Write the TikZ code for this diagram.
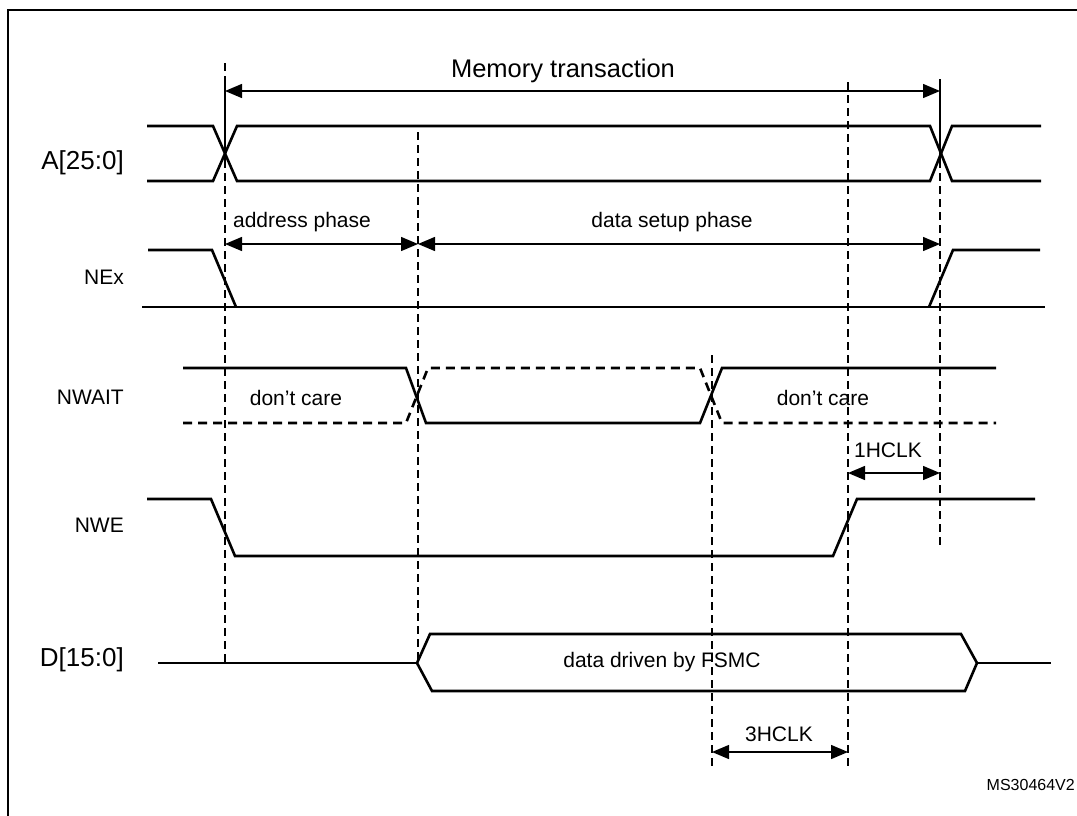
\documentclass[tikz,border=0pt]{standalone}
\usepackage{fontspec}
\setmainfont{Liberation Sans}
\usepackage{tikz}
\usetikzlibrary{arrows.meta}
\usetikzlibrary{calc}

\begin{document}
\begin{tikzpicture}[x=1pt,y=-1pt,
    wave/.style={line width=2.6pt},
    wavedc/.style={line width=2.6pt, dash pattern=on 9pt off 6pt},
    tmark/.style={line width=1.4pt, dash pattern=on 8pt off 5pt},
    span/.style={line width=1.4pt, {Triangle[length=17pt,width=14pt]}-{Triangle[length=17pt,width=14pt]}},
    sig/.style={anchor=east, inner sep=0pt, font=\fontsize{21}{25}\selectfont},
    bus/.style={anchor=east, inner sep=0pt, font=\fontsize{26}{30}\selectfont},
    txt/.style={inner sep=0pt, font=\fontsize{21}{25}\selectfont}]
  \useasboundingbox (0,0) rectangle (1077,815);
  % frame
  \draw[line width=2pt] (7.5,830) -- (7.5,9.5) -- (1090,9.5);

  % signal names
  \node[bus] (lA) at (124,163) {A[25:0]};
  \node[sig] (lNE) at (124,277) {NEx};
  \node[sig] (lNW) at (124,397) {NWAIT};
  \node[sig] (lWE) at (124,525) {NWE};
  \node[bus] (lD) at (124,660) {D[15:0]};

  % timing marks
  \draw[tmark] (225,63) -- (225,80);
  \draw[line width=1.4pt] (225,80) -- (225,160);
  \draw[tmark] (225,160) -- (225,663);
  \draw[tmark] (418,132) -- (418,663);
  \draw[tmark] (712,355) -- (712,767);
  \draw[tmark] (848,82) -- (848,767);
  \draw[line width=1.4pt] (940,79) -- (940,160);
  \draw[tmark] (940,160) -- (940,547);

  % A[25:0]
  \draw[wave] (147,126) -- (213,126) -- (237,181) -- (930,181) -- (952,126) -- (1041,126);
  \draw[wave] (147,181) -- (213,181) -- (237,126) -- (930,126) -- (952,181) -- (1041,181);
  % NEx
  \draw[wave] (142,307) -- (1045,307);
  \draw[wave] (148,250) -- (212,250) -- (236,307);
  \draw[wave] (929,307) -- (953,250) -- (1040,250);
  % NWAIT
  \draw[wave] (183,368) -- (406,368) -- (426,423) -- (700,423) -- (722,368) -- (996,368);
  \draw[wavedc] (183,423) -- (406,423) -- (428,368) -- (700,368) -- (722,423) -- (996,423);
  % NWE
  \draw[wave] (147,499) -- (211,499) -- (235,556) -- (833,556) -- (857,499) -- (1035,499);
  % D[15:0]
  \draw[wave] (158,663) -- (417,663);
  \draw[wave] (977,663) -- (1051,663);
  \draw[wave] (417,663) -- (430,634) -- (961,634) -- (977,663) -- (965,691) -- (432,691) -- cycle;

  % spans
  \coordinate (memL) at (225,91);
  \coordinate (memR) at (940,91);
  \coordinate (adrL) at (225,244);
  \coordinate (adrR) at (418,244);
  \coordinate (setR) at (940,244);
  \coordinate (oneL) at (848,473);
  \coordinate (oneR) at (940,473);
  \coordinate (thrL) at (712,752);
  \coordinate (thrR) at (848,752);
  \path [span] (memL) edge (memR);
  \path [span] (adrL) edge (adrR);
  \path [span] (adrR) edge (setR);
  \path [span] (oneL) edge (oneR);
  \path [span] (thrL) edge (thrR);

  % texts
  \node[txt, font=\fontsize{25.5}{30}\selectfont] (mem) at (563,71) {Memory transaction};
  \node[txt] (adr) at (302,222) {address phase};
  \node[txt] (setup) at (672,222) {data setup phase};
  \node[txt] (dc1) at (296,398) {don’t care};
  \node[txt] (dc2) at (823,398) {don’t care};
  \node[txt] (one) at (888,450) {1HCLK};
  \node[txt] (fsmc) at (662,662) {data driven by FSMC};
  \node[txt] (thr) at (779,734) {3HCLK};
  \node[txt, anchor=east, font=\fontsize{16}{19}\selectfont] (ref) at (1075,785) {MS30464V2};
\end{tikzpicture}
\end{document}
